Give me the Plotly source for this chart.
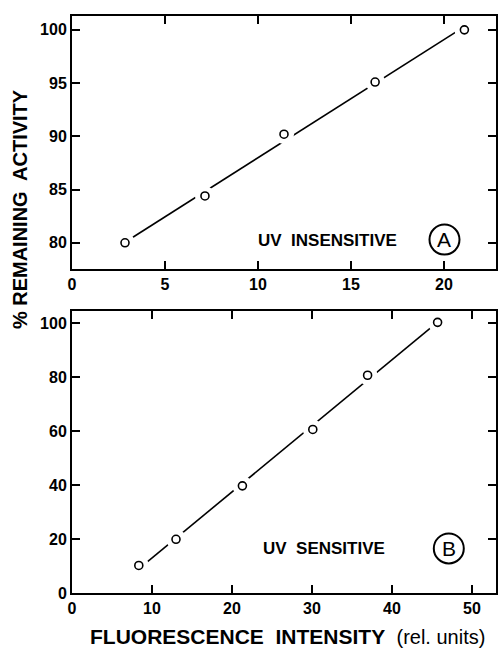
import numpy as np
import plotly.graph_objects as go

# Panel A: UV insensitive
a_x = [2.85, 7.15, 11.4, 16.3, 21.1]
a_y = [80.0, 84.4, 90.2, 95.1, 100.0]
# Panel B: UV sensitive
b_x = [8.35, 13.0, 21.3, 30.1, 36.95, 45.7]
b_y = [10.2, 19.9, 39.7, 60.6, 80.7, 100.3]

a_xticks = [0, 5, 10, 15, 20]
a_yticks = [80, 85, 90, 95, 100]
b_xticks = [0, 10, 20, 30, 40, 50]
b_yticks = [0, 20, 40, 60, 80, 100]

FONT = "Liberation Sans"
fig = go.Figure()

def add_series(xs, ys, xa, ya):
    k, c = np.polyfit(xs, ys, 1)
    fx = [xs[0], xs[-1]]
    fy = [k * v + c for v in fx]
    fig.add_trace(go.Scatter(x=fx, y=fy, mode="lines", line=dict(color="black", width=1.6),
                             xaxis=xa, yaxis=ya, showlegend=False, hoverinfo="skip"))
    fig.add_trace(go.Scatter(x=xs, y=ys, mode="markers",
                             marker=dict(symbol="circle", size=20, color="white", opacity=1,
                                         line=dict(width=0, color="white")),
                             xaxis=xa, yaxis=ya, showlegend=False, hoverinfo="skip"))
    fig.add_trace(go.Scatter(x=xs, y=ys, mode="markers",
                             marker=dict(symbol="circle", size=8, color="white", line=dict(width=1.6, color="black")),
                             xaxis=xa, yaxis=ya, showlegend=False))

add_series(a_x, a_y, "x", "y")
add_series(b_x, b_y, "x2", "y2")

axis_common = dict(showline=True, linecolor="black", linewidth=2, mirror="ticks",
                   ticks="inside", ticklen=8, tickwidth=2, tickcolor="black",
                   showgrid=False, zeroline=False,
                   tickfont=dict(family=FONT, size=16, color="black", weight="bold"))

fig.update_layout(
    width=500, height=648,
    margin=dict(l=72, r=2, t=16, b=54.5),
    paper_bgcolor="white", plot_bgcolor="white",
    xaxis=dict(domain=[0, 1], range=[0, 22.8], tickvals=a_xticks, anchor="y", **axis_common),
    yaxis=dict(domain=[0.5619, 1.0], range=[77.56, 101.3], tickvals=a_yticks, anchor="x", **axis_common),
    xaxis2=dict(domain=[0, 1], range=[0, 53.0], tickvals=b_xticks, anchor="y2", **axis_common),
    yaxis2=dict(domain=[0, 0.4892], range=[0, 104.6], tickvals=b_yticks, anchor="x2", **axis_common),
)

lab_font = dict(family=FONT, size=17, color="black", weight="bold")
circ_font = dict(family=FONT, size=21, color="black")
fig.add_annotation(x=13.73, y=80.2, xref="x", yref="y", text="UV  INSENSITIVE",
                   xanchor="center", yanchor="middle", showarrow=False, font=lab_font)
fig.add_annotation(x=20.03, y=80.3, xref="x", yref="y", text="A",
                   xanchor="center", yanchor="middle", showarrow=False, font=circ_font)
fig.add_shape(type="circle", xref="x", yref="y", xsizemode="pixel", ysizemode="pixel",
              xanchor=20.03, yanchor=80.3, x0=-15, x1=15, y0=-15, y1=15,
              line=dict(color="black", width=2))

fig.add_annotation(x=31.5, y=16.5, xref="x2", yref="y2", text="UV  SENSITIVE",
                   xanchor="center", yanchor="middle", showarrow=False, font=lab_font)
fig.add_annotation(x=47.1, y=16.5, xref="x2", yref="y2", text="B",
                   xanchor="center", yanchor="middle", showarrow=False, font=circ_font)
fig.add_shape(type="circle", xref="x2", yref="y2", xsizemode="pixel", ysizemode="pixel",
              xanchor=47.1, yanchor=16.5, x0=-15, x1=15, y0=-15, y1=15,
              line=dict(color="black", width=2))

fig.add_annotation(x=0.509, y=-0.0753, xref="paper", yref="paper",
                   xanchor="center", yanchor="middle",
                   text="FLUORESCENCE  INTENSITY  <span style='font-weight:normal;font-size:20px'>(rel. units)</span>",
                   showarrow=False, font=dict(family=FONT, size=21, color="black", weight="bold"))
fig.add_annotation(x=-0.122, y=0.6658, xref="paper", yref="paper", textangle=-90,
                   xanchor="center", yanchor="middle",
                   text="% REMAINING  ACTIVITY",
                   showarrow=False, font=dict(family=FONT, size=20, color="black", weight="bold"))

fig.write_html("out.html")
